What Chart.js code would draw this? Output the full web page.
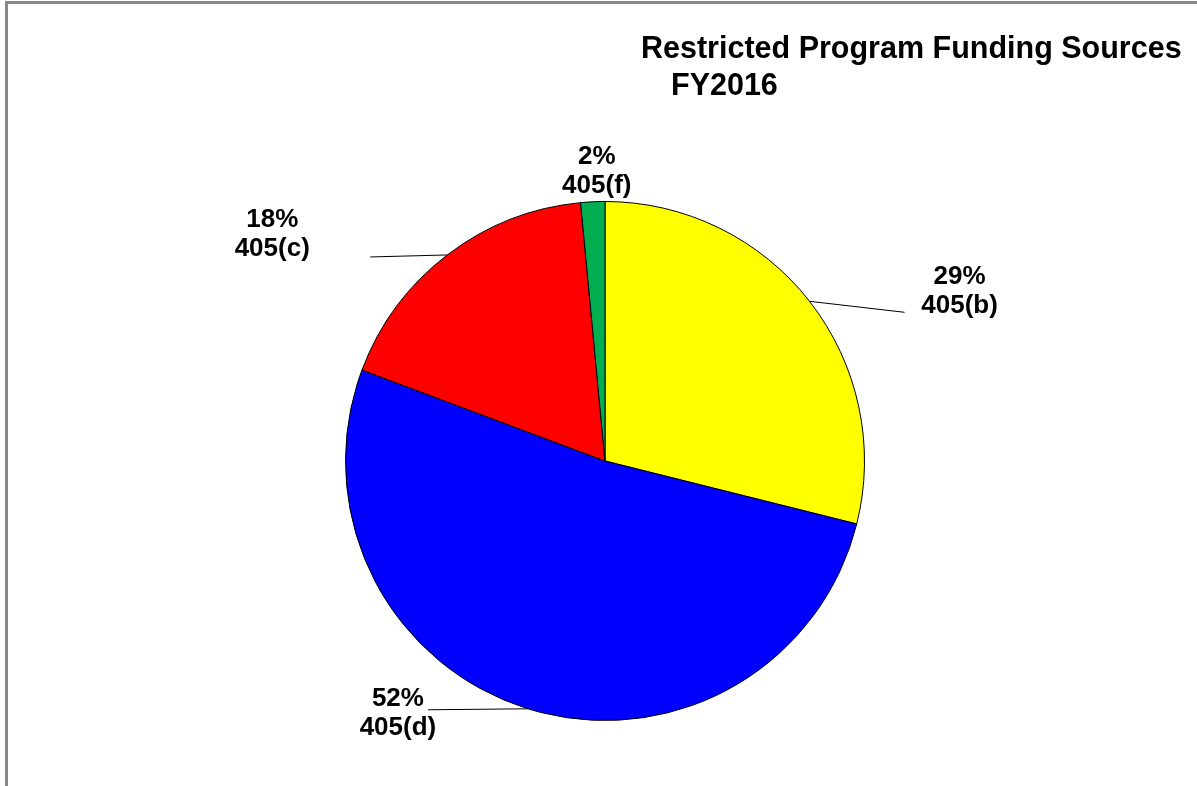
<!DOCTYPE html>
<html><head><meta charset="utf-8">
<script src="https://cdn.jsdelivr.net/npm/chart.js@4"></script>
<style>
html,body{margin:0;padding:0;background:#fff;}
#wrap{position:relative;width:1197px;height:786px;overflow:hidden;}
#frame{position:absolute;left:5px;top:1px;right:-10px;bottom:-10px;border-top:3px solid #888;border-left:3px solid #888;}
canvas{position:absolute;left:0;top:0;}
</style></head><body>
<div id="wrap"><div id="frame"></div><canvas id="c" width="1197" height="786" style="width:1197px;height:786px"></canvas></div>
<script>
const categories = ['405(b)', '405(d)', '405(c)', '405(f)'];
const shares = [28.9, 51.8, 17.8, 1.5];
const sliceColors = ['#FFFF00', '#0000FF', '#FF0000', '#00B050'];
const titleLines = ['Restricted Program Funding Sources', 'FY2016'];

// label placement relative to each slice's outer mid-point (styling only)
const labelLayout = [
  { lead: [95, 11], text: [150, -10] },
  { lead: [-100, 1], text: [-130, 5] },
  { lead: [-77, 2], text: [-175, -21] },
  { lead: null, text: [4, -30] }
];

const FONT = '"Liberation Sans", Arial, sans-serif';

const labelPlugin = {
  id: 'sliceLabels',
  afterDatasetsDraw(chart) {
    const ctx = chart.ctx;
    const meta = chart.getDatasetMeta(0);
    const data = chart.data.datasets[0].data;
    const total = data.reduce((a, b) => a + b, 0);
    ctx.save();
    meta.data.forEach((arc, i) => {
      const p = arc.getProps(['x', 'y', 'startAngle', 'endAngle', 'outerRadius'], true);
      const mid = (p.startAngle + p.endAngle) / 2;
      const ex = p.x + p.outerRadius * Math.cos(mid);
      const ey = p.y + p.outerRadius * Math.sin(mid);
      const L = labelLayout[i];
      if (L.lead) {
        ctx.strokeStyle = '#000';
        ctx.lineWidth = 1;
        ctx.beginPath();
        ctx.moveTo(ex, ey);
        ctx.lineTo(ex + L.lead[0], ey + L.lead[1]);
        ctx.stroke();
      }
      const cx = ex + L.text[0], cy = ey + L.text[1];
      ctx.fillStyle = '#000';
      ctx.font = 'bold 26px ' + FONT;
      ctx.textAlign = 'center';
      ctx.textBaseline = 'middle';
      ctx.fillText(Math.round(data[i] / total * 100) + '%', cx, cy - 14.5);
      ctx.fillText(chart.data.labels[i], cx, cy + 14.5);
    });
    ctx.restore();
  }
};

const titlePlugin = {
  id: 'leftTitle',
  afterDraw(chart) {
    const ctx = chart.ctx;
    ctx.save();
    ctx.fillStyle = '#000';
    ctx.font = 'bold 30.5px ' + FONT;
    ctx.textAlign = 'left';
    ctx.textBaseline = 'middle';
    ctx.fillText(titleLines[0], 641, 50);
    ctx.fillText(titleLines[1], 671, 87);
    ctx.restore();
  }
};

new Chart(document.getElementById('c'), {
  type: 'pie',
  data: {
    labels: categories,
    datasets: [{
      data: shares,
      backgroundColor: sliceColors,
      borderColor: '#000',
      borderWidth: 1
    }]
  },
  options: {
    responsive: false,
    devicePixelRatio: 1,
    animation: false,
    events: [],
    layout: { padding: { left: 345, right: 332, top: 201, bottom: 65 } },
    plugins: { legend: { display: false }, tooltip: { enabled: false }, title: { display: false } }
  },
  plugins: [labelPlugin, titlePlugin]
});
</script>
</body></html>
